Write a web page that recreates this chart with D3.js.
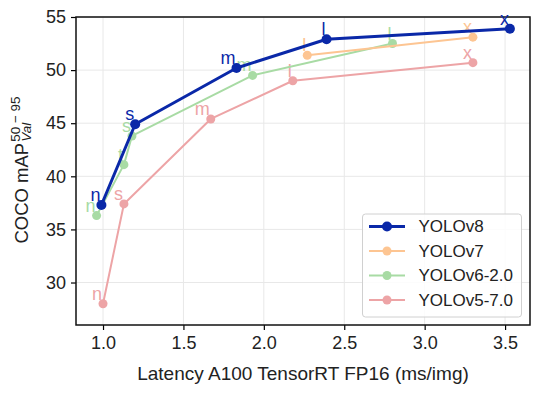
<!DOCTYPE html>
<html>
<head>
<meta charset="utf-8">
<script src="https://cdn.jsdelivr.net/npm/d3@7"></script>
<style>
  body { margin: 0; background: #fff; }
  svg { font-family: "Liberation Sans", Arial, sans-serif; }
</style>
</head>
<body>
<div id="chart"></div>
<script>
// values
var seriesNames = ["YOLOv8", "YOLOv7", "YOLOv6-2.0", "YOLOv5-7.0"];
var seriesColors = ["#0a28a8", "#fdc592", "#a8dba4", "#eda4a6"];

var v8Sizes = ["n", "s", "m", "l", "x"];
var v8Latency = [0.99, 1.20, 1.83, 2.39, 3.53];
var v8Map = [37.3, 44.9, 50.2, 52.9, 53.9];

var v7Sizes = ["l", "x"];
var v7Latency = [2.27, 3.30];
var v7Map = [51.4, 53.1];

var v6Sizes = ["n", "t", "s", "m", "l"];
var v6Latency = [0.96, 1.13, 1.18, 1.93, 2.80];
var v6Map = [36.3, 41.1, 43.8, 49.5, 52.5];

var v5Sizes = ["n", "s", "m", "l", "x"];
var v5Latency = [1.00, 1.13, 1.67, 2.18, 3.30];
var v5Map = [28.0, 37.4, 45.4, 49.0, 50.7];

var xTicks = [1.0, 1.5, 2.0, 2.5, 3.0, 3.5];
var yTicks = [30, 35, 40, 45, 50, 55];

function toPoints(sizes, lat, map) {
    return sizes.map(function (s, i) { return { size: s, lat: lat[i], map: map[i] }; });
}

// drawn in reverse so YOLOv8 sits on top
var series = [
    { name: seriesNames[3], color: seriesColors[3], width: 2, r: 4.5, pts: toPoints(v5Sizes, v5Latency, v5Map) },
    { name: seriesNames[2], color: seriesColors[2], width: 2, r: 4.5, pts: toPoints(v6Sizes, v6Latency, v6Map) },
    { name: seriesNames[1], color: seriesColors[1], width: 2, r: 4.5, pts: toPoints(v7Sizes, v7Latency, v7Map) },
    { name: seriesNames[0], color: seriesColors[0], width: 3, r: 5, pts: toPoints(v8Sizes, v8Latency, v8Map) }
];

var margin = { top: 17, right: 28, bottom: 71, left: 76 },
    width = 558 - margin.left - margin.right,
    height = 396 - margin.top - margin.bottom;

var svg = d3.select("#chart")
    .append("svg")
    .attr("width", 558)
    .attr("height", 396);

var g = svg.append("g")
    .attr("transform", "translate(" + margin.left + "," + margin.top + ")");

var x = d3.scaleLinear().domain([0.832, 3.655]).range([0, width]);
var y = d3.scaleLinear().domain([26.0, 55.0]).range([height, 0]);

// grid
g.append("g").selectAll("line")
    .data(xTicks)
    .enter().append("line")
    .attr("x1", function (d) { return x(d); })
    .attr("x2", function (d) { return x(d); })
    .attr("y1", 0)
    .attr("y2", height)
    .attr("stroke", "#e8e8e8")
    .attr("stroke-width", 1);

g.append("g").selectAll("line")
    .data(yTicks)
    .enter().append("line")
    .attr("x1", 0)
    .attr("x2", width)
    .attr("y1", function (d) { return y(d); })
    .attr("y2", function (d) { return y(d); })
    .attr("stroke", "#e8e8e8")
    .attr("stroke-width", 1);

// axes
var xAxis = g.append("g")
    .attr("transform", "translate(0," + height + ")")
    .call(d3.axisBottom(x).tickValues(xTicks).tickFormat(d3.format(".1f")).tickSize(5).tickPadding(6).tickSizeOuter(0));

var yAxis = g.append("g")
    .call(d3.axisLeft(y).tickValues(yTicks).tickSize(5).tickPadding(5).tickSizeOuter(0));

[xAxis, yAxis].forEach(function (a) {
    a.select(".domain").remove();
    a.selectAll("line").attr("stroke", "#000").attr("stroke-width", 1.2);
    a.selectAll("text").attr("fill", "#222").style("font-size", "18px");
});

// frame
g.append("rect")
    .attr("width", width)
    .attr("height", height)
    .attr("fill", "none")
    .attr("stroke", "#111")
    .attr("stroke-width", 1.5);

// lines, markers and size labels
var line = d3.line()
    .x(function (d) { return x(d.lat); })
    .y(function (d) { return y(d.map); });

series.forEach(function (s) {
    g.append("path")
        .datum(s.pts)
        .attr("fill", "none")
        .attr("stroke", s.color)
        .attr("stroke-width", s.width)
        .attr("stroke-linejoin", "round")
        .attr("d", line);

    g.append("g").selectAll("circle")
        .data(s.pts)
        .enter().append("circle")
        .attr("cx", function (d) { return x(d.lat); })
        .attr("cy", function (d) { return y(d.map); })
        .attr("r", s.r)
        .attr("fill", s.color);

    g.append("g").selectAll("text")
        .data(s.pts)
        .enter().append("text")
        .attr("x", function (d) { return x(d.lat) - 1; })
        .attr("y", function (d) { return y(d.map) - 4; })
        .attr("text-anchor", "end")
        .attr("fill", s.color)
        .style("font-size", "18px")
        .text(function (d) { return d.size; });
});

// legend
var legend = g.append("g")
    .attr("transform", "translate(" + (362.5 - margin.left) + "," + (214 - margin.top) + ")");

legend.append("rect")
    .attr("width", 159)
    .attr("height", 103)
    .attr("rx", 3)
    .attr("fill", "#fff")
    .attr("fill-opacity", 0.85)
    .attr("stroke", "#d0d0d0")
    .attr("stroke-width", 1);

seriesNames.forEach(function (name, i) {
    var row = legend.append("g").attr("transform", "translate(0," + (12.5 + i * 24.5) + ")");
    row.append("line")
        .attr("x1", 6.5).attr("x2", 42.5)
        .attr("stroke", seriesColors[i])
        .attr("stroke-width", i === 0 ? 3 : 2);
    row.append("circle")
        .attr("cx", 24.5)
        .attr("r", i === 0 ? 5 : 4.5)
        .attr("fill", seriesColors[i]);
    row.append("text")
        .attr("x", 56)
        .attr("dy", "0.35em")
        .attr("fill", "#222")
        .style("font-size", "17px")
        .text(name);
});

// axis titles
svg.append("text")
    .attr("x", margin.left + width / 2)
    .attr("y", 380)
    .attr("text-anchor", "middle")
    .attr("fill", "#222")
    .style("font-size", "19px")
    .text("Latency A100 TensorRT FP16 (ms/img)");

var yTitle = svg.append("g")
    .attr("transform", "translate(28,170) rotate(-90)");

var yMain = yTitle.append("text")
    .attr("fill", "#222")
    .style("font-size", "18.5px")
    .text("COCO mAP");

var mainW = yMain.node().getComputedTextLength();

var yUp = yTitle.append("text")
    .attr("x", mainW + 1)
    .attr("y", -8)
    .attr("fill", "#222")
    .style("font-size", "13.5px")
    .text("50 \u2212 95");

yTitle.append("text")
    .attr("x", mainW + 1)
    .attr("y", 3)
    .attr("fill", "#222")
    .style("font-size", "13.5px")
    .style("font-style", "italic")
    .text("Val");

var totalW = mainW + 1 + yUp.node().getComputedTextLength();
yTitle.selectAll("text").attr("transform", "translate(" + (-totalW / 2) + ",0)");
</script>
</body>
</html>
